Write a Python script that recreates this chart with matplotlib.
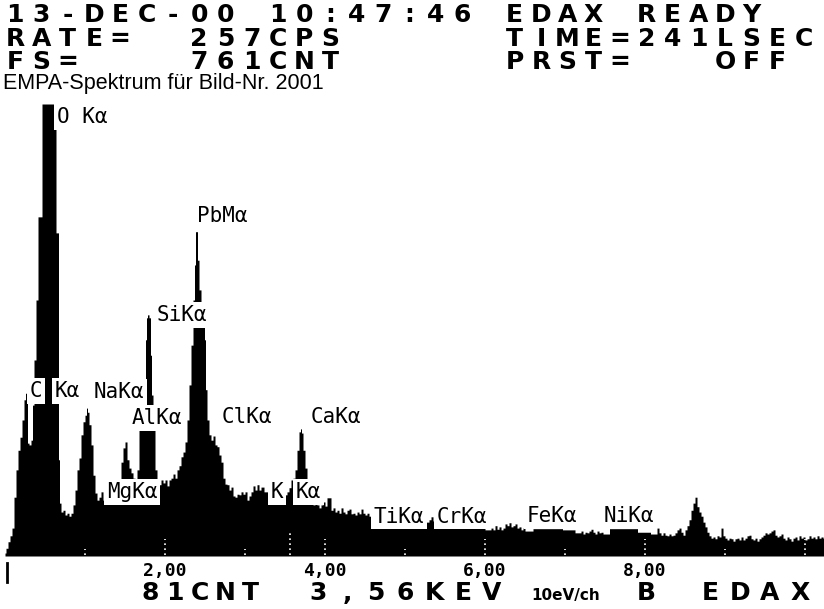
import matplotlib.pyplot as plt

# EDAX spectrum, 10 eV/ch (energy in keV, counts)
energy_kev = [
    0.000, 0.025, 0.050, 0.075, 0.100, 0.125, 0.150, 0.175, 0.200, 0.225,
    0.250, 0.2625, 0.275, 0.2875, 0.3125, 0.3375, 0.350, 0.375, 0.400, 0.425,
    0.450, 0.475, 0.525, 0.575, 0.625, 0.650, 0.6625, 0.675, 0.6875, 0.7125,
    0.7375, 0.7625, 0.7875, 0.8125, 0.8375, 0.8625, 0.8875, 0.9125, 0.9375, 0.9625,
    0.9875, 1.0125, 1.025, 1.0375, 1.0625, 1.0875, 1.1125, 1.1375, 1.1625, 1.1875,
    1.2125, 1.2375, 1.2625, 1.2875, 1.3125, 1.3375, 1.3625, 1.3875, 1.4125, 1.4375,
    1.4625, 1.4875, 1.5125, 1.5375, 1.5625, 1.5875, 1.6125, 1.6375, 1.6625, 1.6875,
    1.7125, 1.7375, 1.750, 1.7625, 1.775, 1.7875, 1.8125, 1.825, 1.8375, 1.8625,
    1.8875, 1.9125, 1.9375, 1.9625, 1.9875, 2.0125, 2.0375, 2.0625, 2.0875, 2.1125,
    2.1375, 2.1625, 2.1875, 2.2125, 2.2375, 2.2625, 2.2875, 2.3125, 2.3375, 2.3625,
    2.375, 2.3875, 2.400, 2.4125, 2.4375, 2.4625, 2.4875, 2.500, 2.5125, 2.5375,
    2.5625, 2.5875, 2.6125, 2.6375, 2.6625, 2.6875, 2.7125, 2.7375, 2.7625, 2.7875,
    2.8125, 2.8375, 2.8625, 2.8875, 2.9125, 2.9375, 2.9625, 2.9875, 3.0125, 3.0375,
    3.0625, 3.0875, 3.1125, 3.1375, 3.1625, 3.1875, 3.2125, 3.2625, 3.3125, 3.3625,
    3.4125, 3.4625, 3.5125, 3.5375, 3.5625, 3.5875, 3.6125, 3.6375, 3.6625, 3.6875,
    3.700, 3.7125, 3.7375, 3.7625, 3.7875, 3.8125, 3.8375, 3.8625, 3.8875, 3.9125,
    3.9375, 3.9625, 3.9875, 4.0125, 4.0375, 4.0625, 4.0875, 4.1125, 4.1375, 4.1625,
    4.1875, 4.2125, 4.2375, 4.2625, 4.2875, 4.3125, 4.3375, 4.3625, 4.3875, 4.4125,
    4.4375, 4.4625, 4.4875, 4.5125, 4.5375, 4.5625, 4.5875, 4.6125, 4.6875, 4.8125,
    4.9375, 5.0625, 5.1875, 5.2875, 5.3125, 5.3375, 5.3625, 5.3875, 5.5625, 5.750,
    5.9375, 6.0625, 6.0875, 6.1125, 6.1375, 6.1625, 6.1875, 6.2125, 6.2375, 6.2625,
    6.2875, 6.3125, 6.3375, 6.3625, 6.3875, 6.4125, 6.4375, 6.4625, 6.4875, 6.5125,
    6.6875, 6.875, 7.0625, 7.1875, 7.2125, 7.2375, 7.2625, 7.2875, 7.3125, 7.3375,
    7.3625, 7.3875, 7.4125, 7.4375, 7.4625, 7.4875, 7.625, 7.8125, 8.000, 8.1375,
    8.1625, 8.1875, 8.2125, 8.2375, 8.2625, 8.2875, 8.3125, 8.3375, 8.3625, 8.3875,
    8.4125, 8.4375, 8.4625, 8.4875, 8.5125, 8.5375, 8.5625, 8.5875, 8.6125, 8.6375,
    8.6625, 8.6875, 8.7125, 8.7375, 8.7625, 8.7875, 8.8125, 8.8375, 8.8625, 8.8875,
    8.9125, 8.9375, 8.9625, 8.9875, 9.0125, 9.0375, 9.0625, 9.0875, 9.1125, 9.1375,
    9.1625, 9.1875, 9.2125, 9.2375, 9.2625, 9.2875, 9.3125, 9.3375, 9.3625, 9.3875,
    9.4125, 9.4375, 9.4625, 9.4875, 9.5125, 9.5375, 9.5625, 9.5875, 9.6125, 9.6375,
    9.6625, 9.6875, 9.7125, 9.7375, 9.7625, 9.7875, 9.8125, 9.8375, 9.8625, 9.8875,
    9.9125, 9.9375, 9.9625, 9.9875, 10.0125, 10.0375, 10.0625, 10.0875, 10.1125, 10.1375,
    10.1625, 10.1875, 10.2125, 10.2375,
]
counts = [
    5, 13, 24, 34, 47, 99, 145, 178, 200, 229,
    263, 274, 263, 190, 187, 195, 254, 330, 431, 571,
    571, 761, 761, 761, 761, 544, 544, 162, 89, 74,
    77, 69, 72, 67, 72, 86, 111, 145, 165, 204,
    226, 237, 249, 242, 221, 187, 136, 106, 94, 99,
    108, 94, 103, 111, 106, 111, 108, 115, 120, 128,
    158, 182, 192, 162, 148, 140, 131, 128, 145, 212,
    229, 254, 271, 364, 401, 406, 401, 338, 271, 221,
    145, 125, 120, 128, 123, 128, 118, 128, 131, 138,
    131, 145, 152, 167, 175, 192, 229, 288, 355, 431,
    490, 546, 546, 498, 448, 423, 389, 364, 280, 229,
    204, 195, 202, 187, 184, 170, 158, 131, 121, 120,
    111, 116, 101, 99, 104, 103, 108, 104, 108, 94,
    101, 108, 118, 111, 120, 111, 116, 108, 115, 111,
    103, 99, 103, 108, 115, 128, 131, 145, 178, 209,
    214, 207, 178, 148, 120, 103, 94, 86, 89, 86,
    81, 86, 91, 84, 98, 98, 77, 81, 74, 77,
    72, 81, 74, 71, 77, 79, 71, 72, 69, 74,
    71, 79, 72, 69, 72, 67, 64, 61, 59, 57,
    56, 57, 54, 57, 61, 66, 59, 52, 54, 52,
    51, 44, 47, 44, 51, 45, 49, 44, 47, 54,
    51, 56, 49, 51, 54, 47, 49, 44, 47, 42,
    46, 46, 44, 39, 42, 37, 40, 39, 42, 45,
    40, 37, 42, 39, 40, 37, 46, 46, 40, 37,
    47, 39, 35, 39, 35, 34, 37, 34, 35, 39,
    44, 47, 40, 35, 44, 51, 61, 77, 89, 99,
    83, 74, 67, 57, 49, 40, 34, 30, 32, 29,
    34, 32, 47, 34, 30, 27, 30, 29, 25, 29,
    30, 27, 32, 27, 30, 34, 35, 29, 27, 30,
    25, 29, 32, 35, 39, 37, 39, 42, 44, 35,
    32, 34, 37, 30, 27, 32, 29, 25, 30, 32,
    27, 34, 30, 32, 27, 29, 34, 30, 32, 29,
    34, 30, 32, 30,
]

full_scale = 761
cursor_kev = 3.56

tick_kev = [2, 4, 6, 8]
tick_labels = ['2,00', '4,00', '6,00', '8,00']

# peak markers: (text, left edge keV, baseline counts)
peak_labels = [
    ('O Kα', 0.65, 729), ('C', 0.3125, 268), ('Kα', 0.625, 268),
    ('NaKα', 1.1125, 266), ('MgKα', 1.275, 98), ('AlKα', 1.5875, 222),
    ('SiKα', 1.9, 396), ('PbMα', 2.4, 562), ('ClKα', 2.7125, 224),
    ('CaKα', 3.825, 224), ('K', 3.325, 98), ('Kα', 3.6375, 98),
    ('TiKα', 4.6125, 56), ('CrKα', 5.4, 56), ('FeKα', 6.525, 57),
    ('NiKα', 7.4875, 57),
]

# status lines of the analyser screen, one character per cell
header_lines = [
    '13-DEC-00 10:47:46 EDAX READY',
    'RATE=  257CPS      TIME=241LSEC',
    'FS=    761CNT      PRST=   OFF',
]
header_base = [22, 46, 69]
# cursor readout under the axis: (word, left px, advance px)
footer_words = [('81CNT', 140, 25), ('3,56KEV', 308, 29),
                ('B', 636, 26), ('EDAX', 700, 30)]
footer_small = '10eV/ch'
subtitle = 'EMPA-Spektrum für Bild-Nr. 2001'

W, H = 824, 609
CELL = 26.3
fig = plt.figure(figsize=(W / 100, H / 100), dpi=100)
ax = fig.add_axes([5 / W, (H - 556) / H, (W - 5) / W, (556 - 104) / H])

ax.fill_between(energy_kev, counts, step='mid', color='black', lw=0)
ax.set_xlim(0, 10.2375)
ax.set_ylim(0, full_scale)

# dotted keV marks inside the filled spectrum
for k in range(1, 11):
    top = 28 if k % 2 == 0 else 12
    ax.vlines(k, 2, top, colors='white', linestyles=(0, (1, 2)), lw=1.2)
ax.vlines(cursor_kev, 2, 40, colors='white', linestyles=(0, (1, 2)), lw=1.2)
ax.plot([0.03, 0.03], [-12, -44], color='black', lw=2, clip_on=False)

for s in ax.spines.values():
    s.set_visible(False)
ax.set_yticks([])
ax.set_xticks(tick_kev, tick_labels, fontfamily='DejaVu Sans Mono',
              fontweight='bold', fontsize=13)
ax.tick_params(axis='x', length=0, pad=4)

for text, xk, yc in peak_labels:
    ax.text(xk, yc, text, family='DejaVu Sans Mono', fontsize=15,
            ha='left', va='baseline', zorder=5, clip_on=False,
            bbox=dict(fc='white', ec='none', pad=2))


def grid_text(s, y_px, x0=5, adv=CELL, **kw):
    for i, ch in enumerate(s):
        if ch != ' ':
            fig.text((x0 + i * adv + 10) / W, 1 - y_px / H, ch,
                     ha='center', va='baseline', **kw)


hdr_font = dict(family='DejaVu Sans', fontweight='bold', fontsize=18)
for line, yb in zip(header_lines, header_base):
    grid_text(line, yb, **hdr_font)

fig.text(3 / W, 1 - 89 / H, subtitle, family='Liberation Sans', fontsize=15.5,
         ha='left', va='baseline')

for word, x0, adv in footer_words:
    grid_text(word, 600, x0=x0, adv=adv, **hdr_font)
fig.text(531 / W, 1 - 600 / H, footer_small, family='DejaVu Sans',
         fontweight='bold', fontsize=11, ha='left', va='baseline')

fig.savefig('out.png', dpi=100)
